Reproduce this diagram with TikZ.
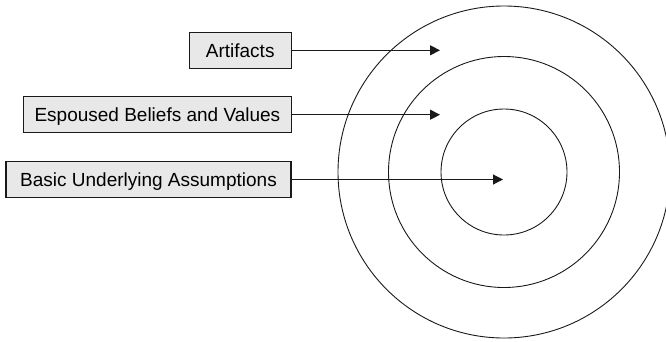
\documentclass[tikz,border=0pt]{standalone}
\usepackage{fontspec}
\setmainfont{Liberation Sans}
\usetikzlibrary{arrows.meta}
\begin{document}
\begin{tikzpicture}[x=1pt,y=-1pt,
  lvlbox/.style={draw=black!90, line width=1.1pt, fill=black!9, minimum height=36pt, inner sep=0pt, text height=13.6pt, text depth=0pt, font=\fontsize{19}{22}\selectfont, text=black},
  ring/.style={draw=black!90, line width=0.9pt},
  arr/.style={draw=black!90, line width=1.1pt, -{Triangle[length=10pt,width=10pt]}}]
\useasboundingbox (0,0) rectangle (666,341);
\node[ring, circle, minimum size=332pt] (outer) at (504,172) {};
\node[ring, circle, minimum size=231pt] (middle) at (504,172) {};
\node[ring, circle, minimum size=126pt] (inner) at (504,172) {};
\node[lvlbox, minimum width=101.7pt] (art) at (240.2,50.3) {Artifacts};
\node[lvlbox, minimum width=268.2pt] (esp) at (157.4,114.7) {Espoused Beliefs and Values};
\node[lvlbox, minimum width=285pt] (bas) at (148.5,179.5) {Basic Underlying Assumptions};
\coordinate (t1) at (440,50.3);
\coordinate (t2) at (440,114.7);
\coordinate (t3) at (503,179.5);
\draw[arr] (art.east) -- (t1);
\draw[arr] (esp.east) -- (t2);
\draw[arr] (bas.east) -- (t3);
\end{tikzpicture}
\end{document}
